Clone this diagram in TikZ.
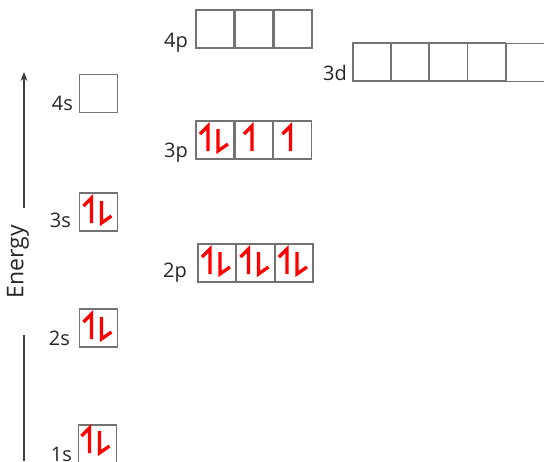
\documentclass[tikz,border=0pt]{standalone}
\usepackage{fontspec}
\setmainfont{Open Sans}
\usetikzlibrary{arrows.meta}
\begin{document}
\begin{tikzpicture}[x=1pt,y=-1pt,
  orb/.style={draw=black!55, line width=1.1pt, minimum width=38pt, minimum height=38pt, inner sep=0pt, outer sep=0pt, anchor=north west},
  lab/.style={font=\fontsize{20}{20}\selectfont, anchor=base east, inner sep=0pt, text=black!85},
  spin/.style={red, line width=3.3pt, line join=miter, line cap=butt},
  axisline/.style={draw=black!75, line width=1.2pt},
  pair/.pic={\draw[spin] (4,13) -- (12,5) -- (12,30); \draw[spin] (22,8) -- (22,30) -- (32,23);},
  upe/.pic={\draw[spin] (9,13) -- (17,5) -- (17,30);}]
\useasboundingbox (0,0) rectangle (544,461);
% boxes
\node[orb] (s4) at (79.5,74.5) {};
\node[orb] (s3) at (79.5,193) {};
\node[orb] (s2) at (79.5,309) {};
\node[orb] (s1) at (78.5,425) {};
\node[orb] (p4a) at (196,10) {};
\node[orb] (p4b) at (235,10) {};
\node[orb] (p4c) at (274,10) {};
\node[orb] (d3a) at (353,43) {};
\node[orb] (d3b) at (391,43) {};
\node[orb] (d3c) at (429.5,43) {};
\node[orb] (d3d) at (467.5,43) {};
\node[orb] (d3e) at (506.5,43.5) {};
\node[orb] (p3a) at (196,121) {};
\node[orb] (p3b) at (235,121) {};
\node[orb] (p3c) at (273.5,121) {};
\node[orb] (p2a) at (198,244) {};
\node[orb] (p2b) at (236.5,244) {};
\node[orb] (p2c) at (275,244) {};
% electrons
\pic at (s3.north west) {pair};
\pic at (s2.north west) {pair};
\pic at ([shift={(-1,-2)}]s1.north west) {pair};
\pic at (p3a.north west) {pair};
\pic at (p3b.north west) {upe};
\pic at (p3c.north west) {upe};
\pic at (p2a.north west) {pair};
\pic at (p2b.north west) {pair};
\pic at (p2c.north west) {pair};
% labels
\node[lab] (l4s) at (73,110) {4s};
\node[lab] (l3s) at (71,227) {3s};
\node[lab] (l2s) at (70,345) {2s};
\node[lab] (l1s) at (72,461) {1s};
\node[lab] (l4p) at (188,47) {4p};
\node[lab] (l3p) at (188,157) {3p};
\node[lab] (l2p) at (187,277) {2p};
\node[lab] (l3d) at (347,80) {3d};
% energy axis
\node[rotate=90, font=\fontsize{23}{23}\selectfont, inner sep=0pt, text=black!85] (en) at (18,262) {Energy};
\coordinate (ebot) at (24,461);
\coordinate (elow) at (24,335);
\coordinate (ehigh) at (24,208);
\coordinate (etop) at (24,72);
\draw[axisline] (ebot) -- (elow);
\draw[axisline, -{Stealth[length=9pt,width=7pt]}] (ehigh) -- (etop);
\end{tikzpicture}
\end{document}
